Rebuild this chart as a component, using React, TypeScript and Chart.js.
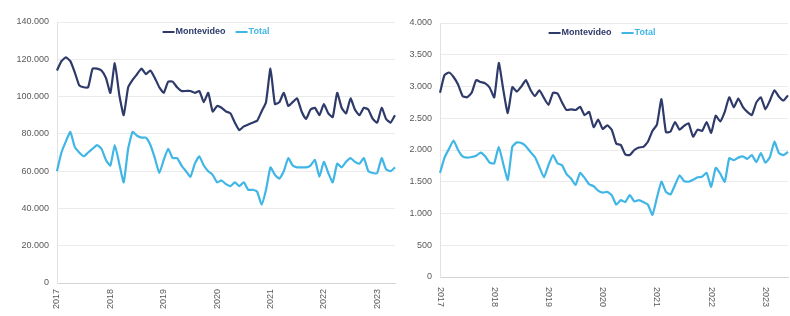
import React, { useEffect, useRef } from 'react';
import { Chart, registerables } from 'chart.js';

Chart.register(...registerables);

// ---------- data ----------
const START_YEAR = 2017;
const SERIES_NAMES = ['Montevideo', 'Total'];

// Left chart (monthly, Jan 2017 onward)
const leftMontevideo = [
  114000, 119000, 121000, 119000, 113000, 106000, 105000, 105000, 115000, 115000,
  114000, 110000, 102000, 118000, 101000, 90000, 105000, 109000, 112000, 115000,
  112000, 114000, 110000, 105000, 102000, 108000, 108000, 105000, 103000, 103000,
  103000, 102000, 103000, 97000, 102000, 92000, 95000, 94000, 92000, 91000,
  86000, 82000, 84000, 85000, 86000, 87000, 92000, 97000, 115000, 96000,
  97000, 102000, 95000, 97000, 99000, 92000, 88000, 93000, 94000, 90000,
  96000, 91000, 89000, 102000, 94000, 91000, 99000, 93000, 90000, 94000,
  93000, 88000, 86000, 94000, 88000, 86000, 90000,
];
const leftTotal = [
  60000, 70000, 76000, 81000, 73000, 70000, 68000, 70000, 72000, 74000,
  72000, 66000, 63000, 74000, 64000, 54000, 72000, 81000, 79000, 78000,
  78000, 74000, 67000, 59000, 66000, 72000, 67000, 67000, 63000, 60000,
  57000, 64000, 68000, 63000, 60000, 58000, 54000, 55000, 53000, 52000,
  54000, 52000, 54000, 50000, 50000, 49000, 42000, 50000, 62000, 58000,
  56000, 60000, 67000, 63000, 62000, 62000, 62000, 63000, 66000, 57000,
  65000, 59000, 54000, 64000, 62000, 65000, 67000, 65000, 64000, 67000,
  60000, 59000, 59000, 67000, 61000, 60000, 62000,
];
const LEFT_Y_MAX = 140000;
const LEFT_Y_STEP = 20000;

// Right chart (monthly, Jan 2017 onward)
const rightMontevideo = [
  2900, 3180, 3220, 3150, 3030, 2850, 2830, 2900, 3100, 3070,
  3050, 2980, 2830, 3370, 2950, 2580, 2990, 2920, 3000, 3100,
  2950, 2850, 2940, 2820, 2710, 2900, 2890, 2750, 2630, 2640,
  2630, 2680, 2550, 2600, 2360, 2480, 2330, 2390, 2320, 2100,
  2080, 1930, 1920, 2000, 2040, 2050, 2130, 2300, 2400, 2800,
  2280, 2290, 2440, 2320, 2380, 2420, 2210, 2320, 2300, 2440,
  2270, 2540, 2450, 2600, 2830, 2670, 2810, 2680, 2600, 2550,
  2750, 2830, 2640, 2780, 2940, 2840, 2780, 2860,
];
const rightTotal = [
  1640, 1880, 2020, 2150, 2000, 1900, 1880, 1890, 1910, 1960,
  1900, 1800, 1790, 2050, 1780, 1530, 2050, 2120, 2110, 2060,
  1970, 1890, 1730, 1570, 1760, 1920, 1790, 1760, 1620, 1550,
  1450, 1640, 1560, 1460, 1430, 1360, 1330, 1340, 1290, 1140,
  1210, 1180, 1290, 1190, 1210, 1180, 1140, 980, 1250, 1500,
  1340, 1300, 1450, 1600, 1510, 1500, 1530, 1570, 1580, 1640,
  1420, 1720, 1630, 1500, 1870, 1840, 1880, 1900, 1860, 1920,
  1810, 1950, 1800, 1890, 2130, 1950, 1920, 1970,
];
const RIGHT_Y_MAX = 4000;
const RIGHT_Y_STEP = 500;

// ---------- helpers ----------
const NAVY = '#2E3A6A';
const CYAN = '#3FB6E6';
const TICK_COLOR = '#595959';
const FONT = '"Liberation Sans", Arial, sans-serif';

function buildMonths(count: number): string[] {
  const out: string[] = [];
  for (let i = 0; i < count; i++) {
    const y = START_YEAR + Math.floor(i / 12);
    const m = (i % 12) + 1;
    out.push(`${y}-${m < 10 ? '0' + m : m}`);
  }
  return out;
}

const fmt = (v: number) =>
  String(Math.round(v)).replace(/\B(?=(\d{3})+(?!\d))/g, '.');

const CANVAS_H = 330;

function makeLegendPlugin(shift: number, dy: number) {
  return {
    id: 'inlineLegend',
    afterDraw(chart: any) {
      const ctx = chart.ctx;
      const { left, right, top } = chart.chartArea;
      ctx.save();
      ctx.font = `bold 9px ${FONT}`;
      const lineW = 12;
      const gap = 1;
      const itemGap = 10;
      const items = chart.data.datasets.map((ds: any) => ({
        label: ds.label,
        color: ds.borderColor,
        w: lineW + gap + ctx.measureText(ds.label).width,
      }));
      const total =
        items.reduce((s: number, it: any) => s + it.w, 0) + itemGap * (items.length - 1);
      let x = (left + right) / 2 - total / 2 + shift;
      const y = top + dy;
      items.forEach((it: any) => {
        ctx.strokeStyle = it.color;
        ctx.lineWidth = 2;
        ctx.beginPath();
        ctx.moveTo(x, y);
        ctx.lineTo(x + lineW, y);
        ctx.stroke();
        ctx.fillStyle = it.color;
        ctx.textBaseline = 'middle';
        ctx.textAlign = 'left';
        ctx.fillText(it.label, x + lineW + gap, y);
        x += it.w + itemGap;
      });
      ctx.restore();
    },
  };
}

// Draws the year labels (January categories) rotated a quarter turn.
// clockwise=true reads top to bottom, false reads bottom to top.
function makeYearLabelsPlugin(clockwise: boolean, pad: number) {
  return {
    id: 'yearLabels',
    afterDraw(chart: any) {
      const ctx = chart.ctx;
      const xs = chart.scales.x;
      const labels: string[] = chart.data.labels;
      ctx.save();
      ctx.font = `9px ${FONT}`;
      ctx.fillStyle = TICK_COLOR;
      ctx.textBaseline = 'middle';
      ctx.textAlign = clockwise ? 'left' : 'right';
      labels.forEach((lab, i) => {
        if (!lab.endsWith('-01')) return;
        const px = xs.getPixelForValue(i);
        ctx.save();
        ctx.translate(px, chart.chartArea.bottom + pad);
        ctx.rotate(clockwise ? Math.PI / 2 : -Math.PI / 2);
        ctx.fillText(lab.slice(0, 4), 0, 0);
        ctx.restore();
      });
      ctx.restore();
    },
  };
}

function makeConfig(
  mont: number[],
  total: number[],
  yMax: number,
  yStep: number,
  yAxisWidth: number,
  padTop: number,
  padRight: number,
  plotBottom: number,
  clockwise: boolean,
  labelPad: number,
  legendShift: number,
) {
  const labels = buildMonths(Math.max(mont.length, total.length));
  const plugins: any[] = [
    makeLegendPlugin(legendShift, 10),
    makeYearLabelsPlugin(clockwise, labelPad),
  ];
  return {
    type: 'line',
    data: {
      labels,
      datasets: [
        {
          label: SERIES_NAMES[0],
          data: mont,
          borderColor: NAVY,
          backgroundColor: NAVY,
          borderWidth: 2.2,
          pointRadius: 0,
          tension: 0.15,
        },
        {
          label: SERIES_NAMES[1],
          data: total,
          borderColor: CYAN,
          backgroundColor: CYAN,
          borderWidth: 2.2,
          pointRadius: 0,
          tension: 0.15,
        },
      ],
    },
    options: {
      responsive: false,
      animation: false,
      events: [],
      layout: { padding: { top: padTop, right: padRight, left: 0, bottom: 0 } },
      plugins: {
        legend: { display: false },
        tooltip: { enabled: false },
      },
      scales: {
        x: {
          offset: false,
          grid: { display: false, drawTicks: false },
          border: { display: true, color: '#d4d4d4', width: 1 },
          ticks: { display: false },
          afterFit: (s: any) => {
            s.height = CANVAS_H - plotBottom;
            s.paddingLeft = 0;
            s.paddingRight = 0;
          },
        },
        y: {
          min: 0,
          max: yMax,
          grid: { color: '#ebebeb', lineWidth: 1, drawTicks: false },
          border: { display: true, color: '#e2e2e2', width: 1 },
          ticks: {
            stepSize: yStep,
            padding: 8,
            color: TICK_COLOR,
            font: { size: 9, family: FONT },
            callback: (v: any) => fmt(Number(v)),
          },
          afterFit: (s: any) => {
            s.width = yAxisWidth;
          },
        },
      },
    },
    plugins,
  };
}

function LineChart(props: { cfg: any; left: number; width: number }) {
  const ref = useRef<HTMLCanvasElement | null>(null);
  useEffect(() => {
    if (!ref.current) return;
    const chart = new Chart(ref.current, props.cfg);
    return () => chart.destroy();
  }, []);
  return (
    <canvas
      ref={ref}
      width={props.width}
      height={CANVAS_H}
      style={{
        position: 'absolute',
        left: props.left,
        top: 0,
        width: props.width,
        height: CANVAS_H,
        display: 'block',
      }}
    />
  );
}

export default function App() {
  const leftCfg = makeConfig(
    leftMontevideo, leftTotal, LEFT_Y_MAX, LEFT_Y_STEP, 57, 22, 5, 283, false, 6, -10,
  );
  const rightCfg = makeConfig(
    rightMontevideo, rightTotal, RIGHT_Y_MAX, RIGHT_Y_STEP, 40, 23, 2, 277, true, 10, -12,
  );
  return (
    <div
      style={{
        position: 'fixed',
        left: 0,
        top: 0,
        width: 790,
        height: 316,
        overflow: 'hidden',
        background: '#ffffff',
      }}
    >
      <LineChart cfg={leftCfg} left={0} width={400} />
      <LineChart cfg={rightCfg} left={400} width={390} />
    </div>
  );
}
